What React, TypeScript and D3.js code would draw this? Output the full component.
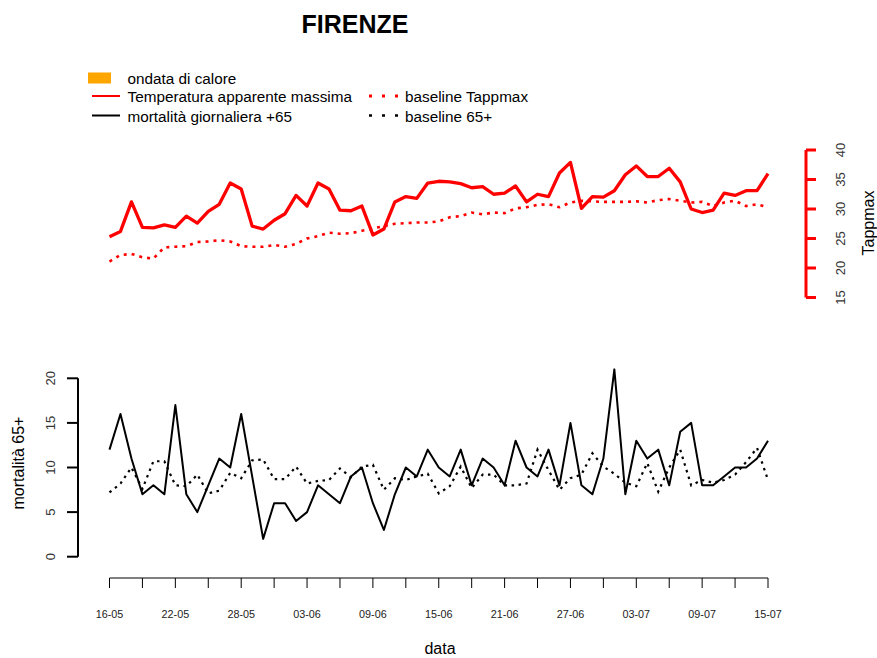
import React from 'react';
import * as d3 from 'd3';

const tickLabels = ['16-05','22-05','28-05','03-06','09-06','15-06','21-06','27-06','03-07','09-07','15-07'];
const tappmax = [25.3,26.2,31.2,26.9,26.8,27.3,26.9,28.8,27.6,29.6,30.8,34.4,33.4,27.1,26.6,28.1,29.2,32.3,30.5,34.4,33.4,29.8,29.7,30.5,25.6,
  26.6,31.2,32.1,31.8,34.4,34.7,34.6,34.3,33.6,33.8,32.5,32.7,33.9,31.2,32.5,32.1,36.1,37.9,30.1,32.1,32.0,33.1,35.8,37.3,35.5,
  35.5,36.9,34.6,30.0,29.4,29.8,32.7,32.3,33.1,33.1,36.0];
const baselineTapp = [21.1,22.2,22.4,21.8,21.6,23.5,23.6,23.7,24.4,24.5,24.7,24.5,23.7,23.6,23.6,23.9,23.6,24.1,25.0,25.4,26.0,25.8,25.9,26.3,26.7,
  27.1,27.5,27.6,27.7,27.7,27.9,28.6,28.8,29.4,29.1,29.4,29.3,30.1,30.3,30.7,30.8,30.3,31.1,31.4,31.3,31.2,31.2,31.2,31.3,31.1,
  31.5,31.7,31.4,31.1,31.2,30.5,31.1,31.4,30.5,30.8,30.3];
const mortality = [12,16,11,7,8,7,17,7,5,8,11,10,16,9,2,6,6,4,5,8,7,6,9,10,6,
  3,7,10,9,12,10,9,12,8,11,10,8,13,10,9,12,8,15,8,7,11,21,7,13,11,
  12,8,14,15,8,8,9,10,10,11,13];
const baselineMort = [7.2,8.2,10.0,7.6,10.7,10.7,8.0,7.9,9.2,7.1,7.4,9.4,8.8,10.8,10.9,8.7,8.7,10.1,8.2,8.5,8.6,9.9,8.9,10.1,10.3,
  7.5,8.8,8.6,9.0,9.3,7.1,7.9,10.1,7.7,9.2,9.2,8.0,8.0,8.2,12.0,9.7,7.5,8.8,9.2,11.6,10.1,9.3,8.3,7.9,10.5,
  7.3,10.0,12.0,8.0,8.6,8.3,8.6,9.2,10.6,12.2,8.6];
const tappTicks = [15,20,25,30,35,40];
const mortTicks = [0,5,10,15,20];

const W = 877, H = 658;
const FONT = '"Liberation Sans", Arial, sans-serif';

export default function App() {
  const n = mortality.length;
  const x = d3.scaleLinear().domain([0, n - 1]).range([109.5, 768]);
  const yT = d3.scaleLinear().domain([15, 40]).range([297.5, 150]);
  const yM = d3.scaleLinear().domain([0, 20]).range([556.7, 378.3]);
  const lineT = d3.line<number>().x((_, i) => x(i)).y(d => yT(d));
  const lineM = d3.line<number>().x((_, i) => x(i)).y(d => yM(d));
  const minorTicks = d3.range(0, n, 3);
  const majorTicks = d3.range(0, n, 6);
  const axisX = 806;
  const leftX = 78;
  const xAxisY = 578;

  return (
    <svg width={W} height={H} style={{ position: 'absolute', left: 0, top: 0, background: '#fff' }} fontFamily={FONT}>
      <rect x={0} y={0} width={W} height={H} fill="#fff" />
      <text x={355} y={33} textAnchor="middle" fontSize={25} fontWeight="bold">FIRENZE</text>

      {/* legend */}
      <rect x={88} y={72.5} width={23} height={11} fill="#FFA500" />
      <text x={127.5} y={78} fontSize={15.3} dominantBaseline="central">ondata di calore</text>
      <line x1={92} x2={120} y1={96} y2={96} stroke="red" strokeWidth={2} />
      <text x={127.5} y={96.5} fontSize={15.3} dominantBaseline="central">Temperatura apparente massima</text>
      <line x1={92} x2={120} y1={115.5} y2={115.5} stroke="black" strokeWidth={2} />
      <text x={127.5} y={116} fontSize={15.3} dominantBaseline="central">mortalità giornaliera +65</text>
      <line x1={369} x2={398} y1={96} y2={96} stroke="red" strokeWidth={3} strokeDasharray="3 10" />
      <text x={405} y={96.5} fontSize={15.3} dominantBaseline="central">baseline Tappmax</text>
      <line x1={369} x2={398} y1={115.5} y2={115.5} stroke="black" strokeWidth={2.6} strokeDasharray="3 10" />
      <text x={405} y={116} fontSize={15.3} dominantBaseline="central">baseline 65+</text>

      {/* top panel */}
      <path d={lineT(baselineTapp) || ''} fill="none" stroke="red" strokeWidth={2.6} strokeDasharray="3 5" />
      <path d={lineT(tappmax) || ''} fill="none" stroke="red" strokeWidth={3.3} strokeLinejoin="round" />
      <line x1={axisX} x2={axisX} y1={yT(15)} y2={yT(40)} stroke="red" strokeWidth={3} />
      {tappTicks.map(t => (
        <g key={t}>
          <line x1={axisX} x2={axisX + 10} y1={yT(t)} y2={yT(t)} stroke="red" strokeWidth={3} />
          <text transform={`translate(840,${yT(t)}) rotate(-90)`} textAnchor="middle" dominantBaseline="central" fontSize={13} fill="#333">{t}</text>
        </g>
      ))}
      <text transform={`translate(868,223) rotate(-90)`} textAnchor="middle" dominantBaseline="central" fontSize={16}>Tappmax</text>

      {/* bottom panel */}
      <path d={lineM(baselineMort) || ''} fill="none" stroke="black" strokeWidth={2.2} strokeDasharray="2.5 4.5" />
      <path d={lineM(mortality) || ''} fill="none" stroke="black" strokeWidth={2} strokeLinejoin="round" />
      <line x1={leftX} x2={leftX} y1={yM(0)} y2={yM(20)} stroke="black" strokeWidth={2} />
      {mortTicks.map(t => (
        <g key={t}>
          <line x1={leftX - 11} x2={leftX} y1={yM(t)} y2={yM(t)} stroke="black" strokeWidth={2} />
          <text transform={`translate(50,${yM(t)}) rotate(-90)`} textAnchor="middle" dominantBaseline="central" fontSize={13} fill="#333">{t}</text>
        </g>
      ))}
      <text transform={`translate(18,463) rotate(-90)`} textAnchor="middle" dominantBaseline="central" fontSize={16}>mortalità 65+</text>

      {/* x axis */}
      <line x1={x(0)} x2={x(n - 1)} y1={xAxisY} y2={xAxisY} stroke="black" strokeWidth={1} />
      {minorTicks.map(i => (
        <line key={i} x1={x(i)} x2={x(i)} y1={xAxisY} y2={xAxisY + 10} stroke="black" strokeWidth={1} />
      ))}
      {majorTicks.map((i, k) => (
        <text key={i} x={x(i)} y={614} textAnchor="middle" dominantBaseline="central" fontSize={10.8} fill="#222">{tickLabels[k]}</text>
      ))}
      <text x={440} y={648} textAnchor="middle" dominantBaseline="central" fontSize={16}>data</text>
    </svg>
  );
}
